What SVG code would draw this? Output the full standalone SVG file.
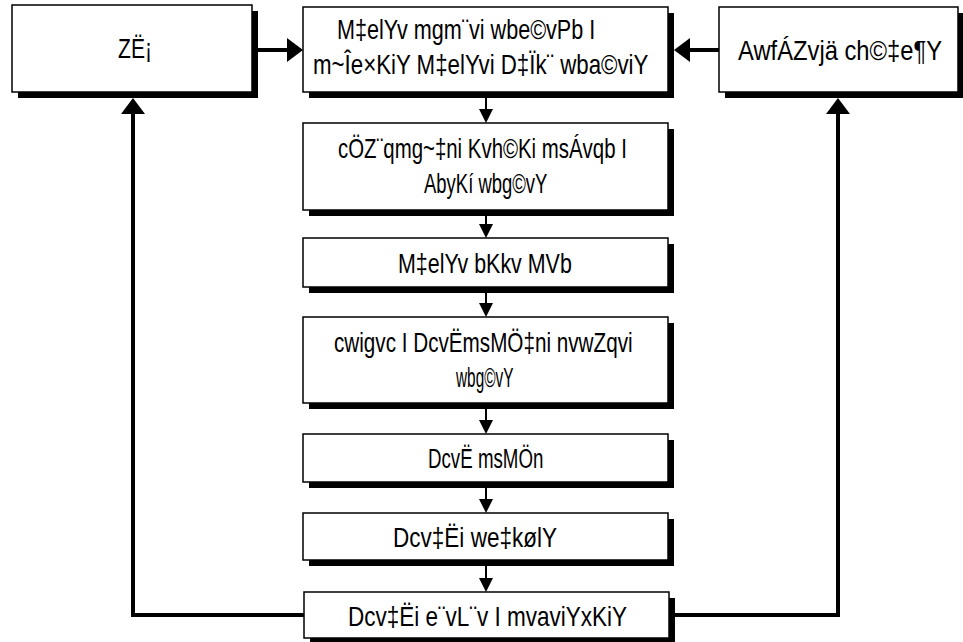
<svg xmlns="http://www.w3.org/2000/svg" width="963" height="642" viewBox="0 0 963 642">
<defs>
<style>
.sh{fill:#000}
.bd{fill:#fff;stroke:#000;stroke-width:1.5}
.lbl{font-family:"Liberation Sans",Arial,sans-serif;font-size:27px;fill:#000}
.thin{stroke:#000;stroke-width:2;fill:none}
.thick{stroke:#000;stroke-width:4;fill:none}
</style>
<marker id="sm" markerUnits="userSpaceOnUse" markerWidth="14" markerHeight="14" refX="0" refY="7" orient="auto" overflow="visible">
<path d="M0,0 L14,7 L0,14 Z" fill="#000"/>
</marker>
<marker id="bg" markerUnits="userSpaceOnUse" markerWidth="16" markerHeight="24" refX="0" refY="12" orient="auto" overflow="visible">
<path d="M0,0 L16,12 L0,24 Z" fill="#000"/>
</marker>
</defs>
<rect width="963" height="642" fill="#fff"/>

<g id="connectors">
<path class="thin" d="M486,92 V109" marker-end="url(#sm)"/>
<path class="thin" d="M486,210 V224" marker-end="url(#sm)"/>
<path class="thin" d="M486,287 V303" marker-end="url(#sm)"/>
<path class="thin" d="M486,403 V420" marker-end="url(#sm)"/>
<path class="thin" d="M486,482 V499" marker-end="url(#sm)"/>
<path class="thin" d="M486,560 V578" marker-end="url(#sm)"/>
<path class="thick" d="M252,50 H287" marker-end="url(#bg)"/>
<path class="thick" d="M719,50 H690" marker-end="url(#bg)"/>
<path class="thick" d="M304,615 H133 V114" marker-end="url(#bg)"/>
<path class="thick" d="M669,615 H838 V114" marker-end="url(#bg)"/>
</g>

<g id="n-theory">
<rect class="sh" x="18" y="11" width="240" height="87"/>
<rect class="bd" x="12" y="5" width="240" height="87"/>
<text class="lbl" transform="translate(118,58) scale(0.782,1)">ZË¡</text>
</g>

<g id="n-problem">
<rect class="sh" x="309" y="13" width="365" height="85"/>
<rect class="bd" x="303" y="7" width="365" height="85"/>
<text class="lbl" transform="translate(337,39) scale(0.80,1)">M‡elYv mgm¨vi wbe©vPb I</text>
<text class="lbl" transform="translate(313,74) scale(0.825,1)">m~Îe×KiY M‡elYvi D‡Ïk¨ wba©viY</text>
</g>

<g id="n-observation">
<rect class="sh" x="725" y="13" width="239" height="85"/>
<rect class="bd" x="719" y="7" width="239" height="85"/>
<text class="lbl" transform="translate(738,60) scale(0.88,1)">AwfÁZvjä ch©‡e¶Y</text>
</g>

<g id="n-concepts">
<rect class="sh" x="309" y="129" width="365" height="87"/>
<rect class="bd" x="303" y="123" width="365" height="87"/>
<text class="lbl" transform="translate(338,158) scale(0.756,1)">cÖZ¨qmg~‡ni Kvh©Ki msÁvqb I</text>
<text class="lbl" transform="translate(424,193) scale(0.684,1)">AbyKí wbg©vY</text>
</g>

<g id="n-design">
<rect class="sh" x="309" y="244" width="365" height="49"/>
<rect class="bd" x="303" y="238" width="365" height="49"/>
<text class="lbl" transform="translate(398,273) scale(0.794,1)">M‡elYv bKkv MVb</text>
</g>

<g id="n-instrument">
<rect class="sh" x="309" y="323" width="365" height="86"/>
<rect class="bd" x="303" y="317" width="365" height="86"/>
<text class="lbl" transform="translate(334,352) scale(0.766,1)">cwigvc I DcvËmsMÖ‡ni nvwZqvi</text>
<text class="lbl" transform="translate(456,387) scale(0.569,1)">wbg©vY</text>
</g>

<g id="n-collection">
<rect class="sh" x="309" y="440" width="365" height="48"/>
<rect class="bd" x="303" y="434" width="365" height="48"/>
<text class="lbl" transform="translate(428,468) scale(0.693,1)">DcvË msMÖn</text>
</g>

<g id="n-analysis">
<rect class="sh" x="309" y="519" width="365" height="47"/>
<rect class="bd" x="303" y="513" width="365" height="47"/>
<text class="lbl" transform="translate(393,547) scale(0.835,1)">Dcv‡Ëi we‡kølY</text>
</g>

<g id="n-interpretation">
<rect class="sh" x="310" y="598" width="365" height="46"/>
<rect class="bd" x="304" y="592" width="365" height="46"/>
<text class="lbl" transform="translate(348,626) scale(0.834,1)">Dcv‡Ëi e¨vL¨v I mvaviYxKiY</text>
</g>
</svg>
